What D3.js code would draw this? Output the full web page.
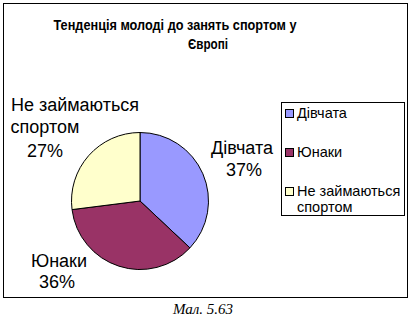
<!DOCTYPE html>
<html>
<head>
<meta charset="utf-8">
<script src="https://cdn.jsdelivr.net/npm/d3@7"></script>
<style>
  body { margin: 0; background: #fff; }
  text { font-family: "Liberation Sans", Arial, sans-serif; }
</style>
</head>
<body>
<div id="chart"></div>
<script>
var categories = ["Дівчата", "Юнаки", "Не займаються спортом"];
var values = [37, 36, 27];
var colors = ["#9999FF", "#993366", "#FFFFCC"];
var titleLines = ["Тенденція молоді до занять спортом у", "Європі"];
var caption = "Мал. 5.63";

var width = 412;
var height = 323;

var svg = d3.select("#chart")
  .append("svg")
    .attr("width", width)
    .attr("height", height);

// chart frame
svg.append("rect")
  .attr("x", 3.5).attr("y", 3.5)
  .attr("width", 404).attr("height", 294)
  .attr("fill", "#fff")
  .attr("stroke", "#000")
  .attr("stroke-width", 1);

// title
var titleX = [175, 208];
var titleY = [30, 49];
var titleW = [243, 40];
svg.selectAll(".title")
  .data(titleLines)
  .enter()
  .append("text")
    .attr("class", "title")
    .attr("x", function(d, i){ return titleX[i]; })
    .attr("y", function(d, i){ return titleY[i]; })
    .attr("text-anchor", "middle")
    .attr("textLength", function(d, i){ return titleW[i]; })
    .attr("lengthAdjust", "spacingAndGlyphs")
    .style("font-weight", "bold")
    .style("font-size", "14px")
    .text(function(d){ return d; });

// pie
var cx = 140, cy = 201, radius = 68.5;

var pie = d3.pie().sort(null).value(function(d){ return d; });
var arc = d3.arc().innerRadius(0).outerRadius(radius);
var arcs = pie(values);

var g = svg.append("g").attr("transform", "translate(" + cx + "," + cy + ")");
g.selectAll("path")
  .data(arcs)
  .enter()
  .append("path")
    .attr("d", arc)
    .attr("fill", function(d, i){ return colors[i]; })
    .attr("stroke", "#000")
    .attr("stroke-width", 1);

// data labels (positions)
var labelLines = [
  [categories[0], values[0] + "%"],
  [categories[1], values[1] + "%"],
  ["Не займаються", "спортом", values[2] + "%"]
];
var labelPos = [
  [[242, 154], [244, 176]],
  [[59, 267], [57, 288]],
  [[75, 111], [45, 133], [45, 157]]
];
labelLines.forEach(function(lines, k){
  svg.selectAll(".lbl" + k)
    .data(lines)
    .enter()
    .append("text")
      .attr("x", function(d, i){ return labelPos[k][i][0]; })
      .attr("y", function(d, i){ return labelPos[k][i][1]; })
      .attr("text-anchor", "middle")
      .style("font-size", "18px")
      .text(function(d){ return d; });
});

// legend
var legend = svg.append("g");
legend.append("rect")
  .attr("x", 281.5).attr("y", 102.5)
  .attr("width", 123).attr("height", 113)
  .attr("fill", "#fff")
  .attr("stroke", "#000");

var legendY = [113, 152, 191];
var items = legend.selectAll(".item")
  .data(categories)
  .enter()
  .append("g")
    .attr("transform", function(d, i){ return "translate(285," + legendY[i] + ")"; });

items.append("rect")
  .attr("x", 0.5).attr("y", -3.5)
  .attr("width", 8).attr("height", 8)
  .attr("fill", function(d, i){ return colors[i]; })
  .attr("stroke", "#000");

items.append("text")
  .attr("x", 12)
  .attr("y", 5)
  .style("font-size", "14.5px")
  .each(function(d){
    var words = d === "Не займаються спортом" ? ["Не займаються", "спортом"] : [d];
    var t = d3.select(this);
    words.forEach(function(w, j){
      t.append("tspan").attr("x", 12).attr("dy", j ? 16 : 0).text(w);
    });
  });

// caption under the chart
svg.append("text")
  .attr("x", 203)
  .attr("y", 314)
  .attr("text-anchor", "middle")
  .style("font-family", "'Liberation Serif', 'Times New Roman', serif")
  .style("font-style", "italic")
  .style("font-size", "15px")
  .text(caption);
</script>
</body>
</html>
